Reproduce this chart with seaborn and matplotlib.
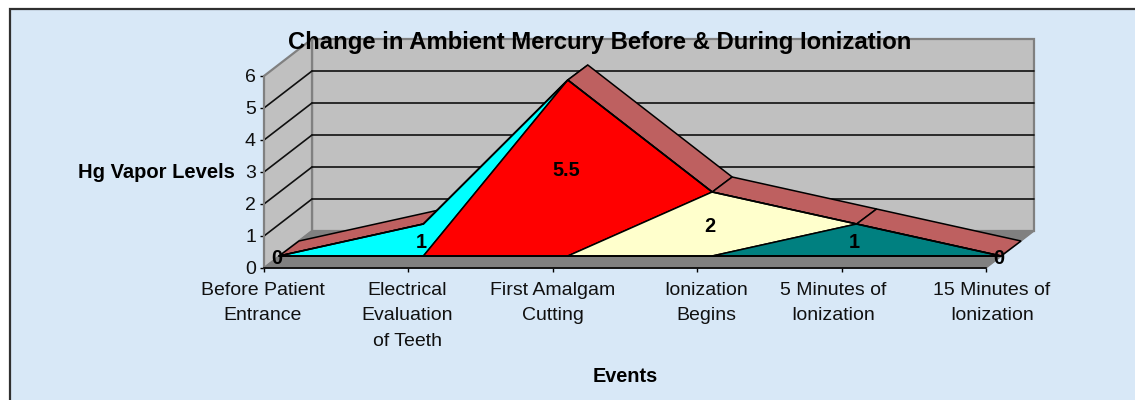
import matplotlib
matplotlib.use("Agg")
import matplotlib.pyplot as plt
from matplotlib.patches import Rectangle
from matplotlib.transforms import Affine2D
import numpy as np
import pandas as pd
import seaborn as sns

# --- data ---
events = ["Before Patient\nEntrance", "Electrical\nEvaluation\nof Teeth", "First Amalgam\nCutting",
          "Ionization\nBegins", "5 Minutes of\nIonization", "15 Minutes of\nIonization"]
hg_levels = [0, 1, 5.5, 2, 1, 0]
value_labels = ["0", "1", "5.5", "2", "1", "0"]
segment_colors = ["#00FFFF", "#FF0000", "#FFFFCC", "#008080"]
y_ticks = [0, 1, 2, 3, 4, 5, 6]
title_text = "Change in Ambient Mercury Before & During Ionization"
y_title = "Hg Vapor Levels"
x_title = "Events"

W, H = 1135, 400
sns.set_style("white")
plt.rcParams["font.family"] = ["Liberation Sans", "DejaVu Sans"]

fig = plt.figure(figsize=(W / 100, H / 100), dpi=100, facecolor="white")
fig.add_artist(Rectangle((9.5 / W, -0.1), 1.1, 1.1 - 9.5 / H, transform=fig.transFigure,
                         facecolor="#D8E8F7", edgecolor="#303030", linewidth=1.6, zorder=-5))

L, R, B, T = 264, 986, 268, 76
ax = fig.add_axes([L / W, (H - B) / H, (R - L) / W, (B - T) / H])
ax.patch.set_alpha(0)
ax.set_xlim(0, 5)
ax.set_ylim(0, 6)

idx = np.arange(len(hg_levels))
df = pd.DataFrame({"event": idx, "hg": hg_levels})
vals = np.array(hg_levels, dtype=float)


def shift(dx, dy):
    return ax.transData + Affine2D().translate(dx, dy)


wall = shift(48, 37)
front = shift(15, 12)
label_tr = shift(13, 10)
xmin, xmax = 0, 5
ymin, ymax = y_ticks[0], y_ticks[-1]
d = 48 / ((R - L) / 5)
e = 37 / 32

# walls and floor are built from the axis limits
ax.fill([xmin, xmax, xmax, xmin], [ymin, ymin, ymax, ymax], transform=wall,
        facecolor="#C0C0C0", edgecolor="#808080", lw=1.6, clip_on=False, zorder=1)
ax.fill([xmin, xmin + d, xmin + d, xmin], [ymin, ymin + e, ymax + e, ymax],
        facecolor="#C0C0C0", edgecolor="#808080", lw=1.6, clip_on=False, zorder=1)
ax.fill([xmin, xmax, xmax + d, xmin + d], [ymin, ymin, ymin + e, ymin + e],
        facecolor="#808080", edgecolor="#808080", lw=1, clip_on=False, zorder=2)
for v in y_ticks[1:-1]:
    ax.plot([xmin, xmin + d], [v, v + e], color="#101010", lw=1.2, clip_on=False, zorder=3)
    ax.plot([xmin, xmax], [v, v], color="#101010", lw=1.2, clip_on=False, zorder=3, transform=wall)

# ridge (top face) of the 3D area: one quad per segment
dxd, dyd = 20 / ((R - L) / 5), 15 / 32
for i in range(len(vals) - 1):
    xs = [idx[i], idx[i + 1]]
    ys = [vals[i], vals[i + 1]]
    ax.fill([xs[0], xs[1], xs[1] + dxd, xs[0] + dxd], [ys[0], ys[1], ys[1] + dyd, ys[0] + dyd],
            transform=front, facecolor="#BE6060", edgecolor="black", lw=1.1,
            clip_on=False, zorder=4 + i * 0.01)

# front face: one coloured polygon per point
for i, c in enumerate(segment_colors):
    if i < len(segment_colors) - 1:
        px = [idx[i], idx[i + 1], idx[i + 2], idx[i + 1]]
        py = [0, vals[i + 1], vals[i + 2], 0]
    else:
        px = [idx[i], idx[i + 1], idx[i + 2]]
        py = [0, vals[i + 1], vals[i + 2]]
    ax.fill(px, py, transform=front, facecolor=c, edgecolor="black", lw=1.1,
            clip_on=False, zorder=6 + i * 0.1)

# seaborn draws the top line of the area in the front plane
sns.lineplot(data=df, x="event", y="hg", ax=ax, color="black", lw=1.2, errorbar=None, legend=False)
line = ax.lines[-1]
line.set_transform(front)
line.set_clip_on(False)
line.set_zorder(7)
ax.plot([idx[0], idx[-1]], [0, 0], transform=front, color="black", lw=1.3, clip_on=False, zorder=7)

# value labels, centred in the height of each point
for i, (v, s) in enumerate(zip(vals, value_labels)):
    ax.text(idx[i], v / 2, s, transform=label_tr, ha="center", va="center", fontsize=14.3,
            fontweight="bold", color="black", zorder=9, clip_on=False)

# axes
for s in ("top", "right"):
    ax.spines[s].set_visible(False)
ax.spines["left"].set_visible(True)
ax.spines["left"].set_color("#808080")
ax.spines["left"].set_linewidth(1.4)
ax.spines["left"].set_zorder(8)
ax.spines["bottom"].set_visible(True)
ax.spines["bottom"].set_color("black")
ax.spines["bottom"].set_linewidth(1.2)
ax.spines["bottom"].set_zorder(8)
ax.set_yticks(y_ticks)
ax.set_xticks(idx)
ax.set_xticklabels(events, linespacing=1.66, va="top")
ax.tick_params(axis="both", length=2.8, width=1, color="black", labelsize=14, labelcolor="#101010",
               left=True, bottom=True, pad=7)
ax.tick_params(axis="y", pad=3)
label_shift = [-1, -1, 0, 9, -8, 6]
for lbl, dx in zip(ax.get_xticklabels(), label_shift):
    lbl.set_transform(lbl.get_transform() + Affine2D().translate(dx, 0))

ax.set_xlabel(x_title, fontsize=14.3, fontweight="bold", color="black")
ax.xaxis.set_label_coords((625 - L) / (R - L), (B - 376) / (B - T), transform=ax.transAxes)
ax.xaxis.label.set_va("center")
ax.set_ylabel(y_title, fontsize=14.5, fontweight="bold", rotation=0, color="black", ha="center", va="center")
ax.yaxis.set_label_coords((156.5 - L) / (R - L), (B - 172) / (B - T), transform=ax.transAxes)
fig.text(600 / W, 1 - 43 / H, title_text, fontsize=17.2, fontweight="bold", ha="center", va="center",
         color="black", zorder=20)

fig.savefig("out.png", dpi=100, facecolor=fig.get_facecolor())
